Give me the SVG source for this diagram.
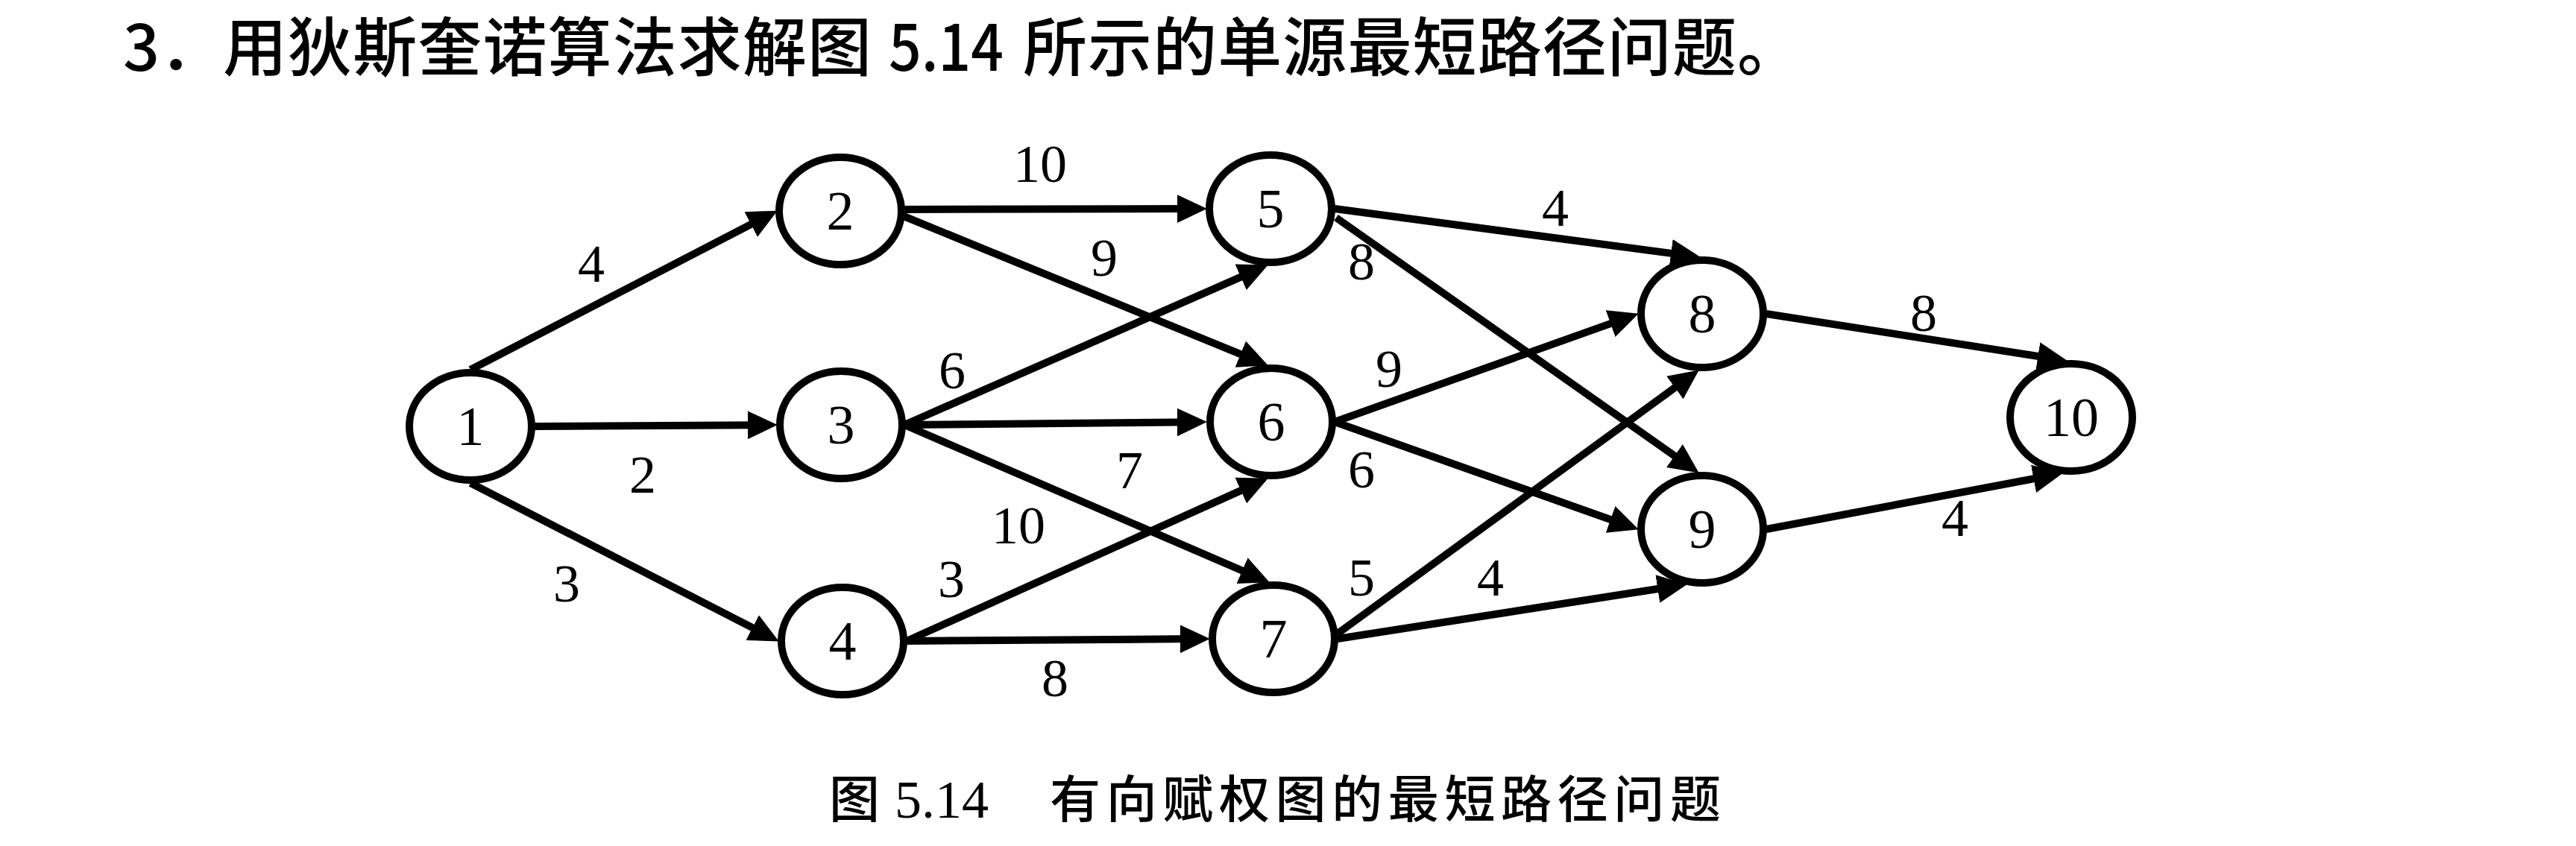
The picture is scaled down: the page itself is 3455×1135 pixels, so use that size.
<svg xmlns="http://www.w3.org/2000/svg" width="3455" height="1135" viewBox="0 0 3455 1135">
<style>
.bg{fill:#fff}
.node ellipse{fill:#fff;stroke:#000;stroke-width:10}
.nl{font-family:"Liberation Serif","Times New Roman",serif;font-size:74px;text-anchor:middle;fill:#000}
.el{font-family:"Liberation Serif","Times New Roman",serif;font-size:72px;text-anchor:middle;fill:#000}
.edge{stroke:#000;stroke-width:10;fill:none;marker-end:url(#arr)}
.title{font-family:"Noto Sans CJK SC","Liberation Sans",sans-serif;font-size:86px;font-weight:500;fill:#000}
.cap{font-family:"Noto Sans CJK SC","Liberation Sans",sans-serif;font-size:68px;font-weight:500;fill:#000}
.capn{font-family:"Liberation Serif","Noto Sans CJK SC",serif;font-size:72px;fill:#000}
</style>
<defs>
<marker id="arr" markerUnits="userSpaceOnUse" markerWidth="40" markerHeight="38" viewBox="0 0 38 36" refX="22" refY="18" orient="auto">
<path d="M0,0 L38,18 L0,36 z" fill="#000"/>
</marker>
</defs>
<rect class="bg" x="0" y="0" width="3455" height="1135"/>

<g id="title">
<text class="title" y="95"><tspan x="165">3．</tspan><tspan x="299" textLength="870" lengthAdjust="spacing">用狄斯奎诺算法求解图</tspan><tspan x="1192" textLength="154" lengthAdjust="spacingAndGlyphs">5.14</tspan><tspan x="1372" textLength="1044" lengthAdjust="spacing">所示的单源最短路径问题。</tspan></text>
</g>

<g id="connectors">
<line class="edge" x1="631" y1="496" x2="1027.8" y2="290.4"/>
<line class="edge" x1="717" y1="572" x2="1026" y2="570.1"/>
<line class="edge" x1="631" y1="648" x2="1029.8" y2="852.7"/>
<line class="edge" x1="1212" y1="281" x2="1602" y2="280"/>
<line class="edge" x1="1212" y1="290" x2="1685.2" y2="483.9"/>
<line class="edge" x1="1213" y1="570" x2="1685.3" y2="362.4"/>
<line class="edge" x1="1213" y1="570" x2="1602" y2="566.2"/>
<line class="edge" x1="1213" y1="570" x2="1687.3" y2="774.7"/>
<line class="edge" x1="1216" y1="860" x2="1685.4" y2="648.6"/>
<line class="edge" x1="1216" y1="860" x2="1606" y2="857.1"/>
<line class="edge" x1="1790" y1="280" x2="2264.1" y2="342.9"/>
<line class="edge" x1="1792" y1="292" x2="2264.9" y2="624.8"/>
<line class="edge" x1="1790" y1="566" x2="2181.9" y2="426.4"/>
<line class="edge" x1="1790" y1="566" x2="2181.9" y2="704.7"/>
<line class="edge" x1="1794" y1="850" x2="2265.1" y2="506.4"/>
<line class="edge" x1="1794" y1="857" x2="2246.2" y2="786.5"/>
<line class="edge" x1="2369" y1="421" x2="2756.2" y2="481.5"/>
<line class="edge" x1="2369" y1="710" x2="2750.3" y2="638"/>
</g>

<g id="edge-labels">
<text class="el" x="793" y="378">4</text>
<text class="el" x="862" y="661">2</text>
<text class="el" x="760" y="807">3</text>
<text class="el" x="1395" y="244">10</text>
<text class="el" x="1481" y="370">9</text>
<text class="el" x="1277" y="521">6</text>
<text class="el" x="1515" y="655">7</text>
<text class="el" x="1366" y="729">10</text>
<text class="el" x="1276" y="801">3</text>
<text class="el" x="1415" y="934">8</text>
<text class="el" x="2086" y="303">4</text>
<text class="el" x="1826" y="375">8</text>
<text class="el" x="1863" y="519">9</text>
<text class="el" x="1826" y="654">6</text>
<text class="el" x="1826" y="799">5</text>
<text class="el" x="1999" y="799">4</text>
<text class="el" x="2580" y="444">8</text>
<text class="el" x="2622" y="719">4</text>
</g>

<g id="n1" class="node"><ellipse cx="631" cy="572" rx="82" ry="72"/><text class="nl" x="631" y="597">1</text></g>
<g id="n2" class="node"><ellipse cx="1127" cy="283" rx="82" ry="72"/><text class="nl" x="1127" y="308">2</text></g>
<g id="n3" class="node"><ellipse cx="1128" cy="570" rx="82" ry="72"/><text class="nl" x="1128" y="595">3</text></g>
<g id="n4" class="node"><ellipse cx="1130" cy="860" rx="82" ry="72"/><text class="nl" x="1130" y="885">4</text></g>
<g id="n5" class="node"><ellipse cx="1704" cy="280" rx="82" ry="72"/><text class="nl" x="1704" y="305">5</text></g>
<g id="n6" class="node"><ellipse cx="1705" cy="566" rx="82" ry="72"/><text class="nl" x="1705" y="591">6</text></g>
<g id="n7" class="node"><ellipse cx="1708" cy="857" rx="82" ry="72"/><text class="nl" x="1708" y="882">7</text></g>
<g id="n8" class="node"><ellipse cx="2283" cy="421" rx="82" ry="72"/><text class="nl" x="2283" y="446">8</text></g>
<g id="n9" class="node"><ellipse cx="2283" cy="710" rx="82" ry="72"/><text class="nl" x="2283" y="735">9</text></g>
<g id="n10" class="node"><ellipse cx="2778" cy="560" rx="82" ry="72"/><text class="nl" x="2778" y="585">10</text></g>

<g id="caption">
<text y="1097"><tspan class="cap" x="1112">图</tspan><tspan class="capn" x="1200">5.14</tspan><tspan class="cap" x="1408" textLength="900" lengthAdjust="spacing">有向赋权图的最短路径问题</tspan></text>
</g>
</svg>
